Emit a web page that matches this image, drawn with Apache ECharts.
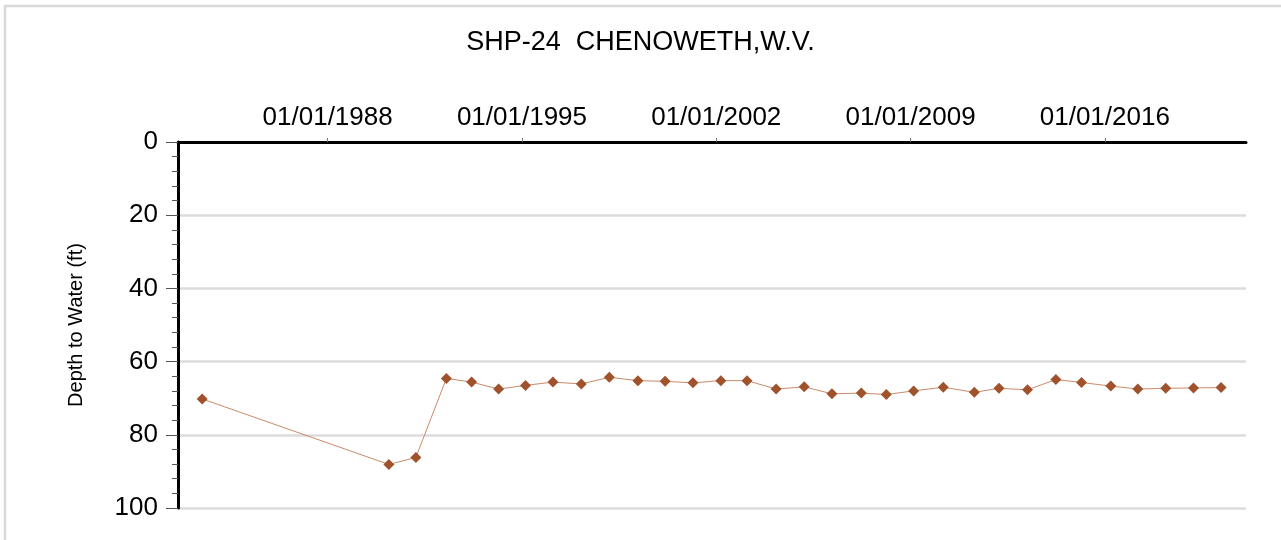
<!DOCTYPE html>
<html>
<head>
<meta charset="utf-8">
<title>SHP-24 CHENOWETH,W.V.</title>
<script src="https://cdn.jsdelivr.net/npm/echarts@6/dist/echarts.min.js"></script>
<style>
  html, body { margin: 0; padding: 0; background: #fff; }
  #main { width: 1281px; height: 540px; }
</style>
</head>
<body>
<div id="main"></div>
<script>
var sampleDates = [
  '1983-06-25', '1990-03-17', '1991-03-07', '1992-04-12', '1993-03-10',
  '1994-02-28', '1995-02-17', '1996-02-13', '1997-02-20', '1998-02-24',
  '1999-03-07', '2000-02-28', '2001-02-28', '2002-03-03', '2003-02-10',
  '2004-02-28', '2005-03-03', '2006-03-03', '2007-03-25', '2008-02-17',
  '2009-02-10', '2010-03-07', '2011-04-20', '2012-03-10', '2013-03-20',
  '2014-03-28', '2015-02-28', '2016-03-20', '2017-03-10', '2018-03-13',
  '2019-03-13', '2020-03-10'
];
// depth to water, ft
var depthValues = [
  70.2, 88.1, 86.2, 64.6, 65.6,
  67.5, 66.5, 65.6, 66.1, 64.3,
  65.2, 65.4, 65.8, 65.2, 65.2,
  67.5, 66.9, 68.8, 68.6, 69.0,
  68.0, 67.0, 68.4, 67.3, 67.7,
  64.9, 65.7, 66.7, 67.5, 67.3,
  67.2, 67.1
];
var xTickDates = ['1988-01-01', '1995-01-01', '2002-01-01', '2009-01-01', '2016-01-01'];
var xRange = ['1982-08-11', '2021-02-01'];

function toTime(s) { return new Date(s + 'T00:00:00').getTime(); }
function pad(n) { return (n < 10 ? '0' : '') + n; }

var seriesData = [];
for (var i = 0; i < sampleDates.length; i++) {
  seriesData.push([toTime(sampleDates[i]), depthValues[i]]);
}
var tickValues = xTickDates.map(toTime);

var chart = echarts.init(document.getElementById('main'));
var font = 'Liberation Sans, Arial, sans-serif';

var option = {
  backgroundColor: '#fff',
  animation: false,
  title: {
    text: 'SHP-24  CHENOWETH,W.V.',
    left: 'center',
    top: 24,
    textStyle: { fontFamily: font, fontSize: 27, fontWeight: 'normal', color: '#000' }
  },
  graphic: [{
    type: 'rect',
    shape: { x: 5, y: 6, width: 1300, height: 560 },
    style: { fill: 'none', stroke: '#d9d9d9', lineWidth: 2.5 },
    silent: true
  }],
  grid: { left: 178, right: 35, top: 142, bottom: 32, containLabel: false },
  xAxis: {
    type: 'value',
    position: 'top',
    min: toTime(xRange[0]),
    max: toTime(xRange[1]),
    axisLine: { lineStyle: { color: '#000', width: 3 } },
    axisTick: { show: true, length: 4, customValues: tickValues, lineStyle: { color: '#777', width: 1 } },
    axisLabel: {
      customValues: tickValues,
      margin: 11,
      fontFamily: font,
      fontSize: 26,
      color: '#000',
      formatter: function (v) {
        var d = new Date(v);
        return pad(d.getMonth() + 1) + '/' + pad(d.getDate()) + '/' + d.getFullYear();
      }
    },
    splitLine: { show: false }
  },
  yAxis: {
    type: 'value',
    inverse: true,
    min: 0,
    max: 100,
    interval: 20,
    name: 'Depth to Water (ft)',
    nameLocation: 'middle',
    nameGap: 92,
    nameTextStyle: { fontFamily: font, fontSize: 20, color: '#000' },
    axisLine: { show: true, lineStyle: { color: '#000', width: 3 } },
    axisTick: { show: true, length: 12, lineStyle: { color: '#555', width: 1 } },
    minorTick: { show: true, splitNumber: 5, length: 6, lineStyle: { color: '#555', width: 1 } },
    axisLabel: { margin: 20, fontFamily: font, fontSize: 26, color: '#000' },
    splitLine: { show: true, lineStyle: { color: '#dcdcdc', width: 2.5 } }
  },
  series: [{
    type: 'line',
    data: seriesData,
    symbol: 'diamond',
    symbolSize: 11,
    itemStyle: { color: '#a0522d' },
    lineStyle: { color: '#c98b6b', width: 1 }
  }]
};

chart.setOption(option);
</script>
</body>
</html>
